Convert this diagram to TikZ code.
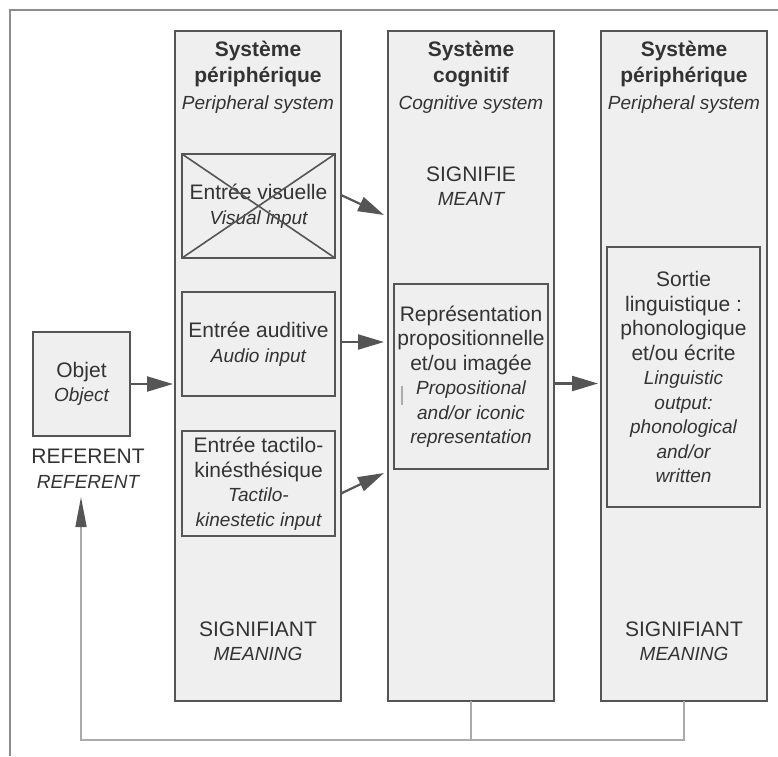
\documentclass[tikz,border=0pt]{standalone}
\usepackage{fontspec}
\setmainfont{Liberation Sans}
\usetikzlibrary{arrows.meta,calc}

\definecolor{ink}{HTML}{333333}
\definecolor{edge}{HTML}{555555}
\definecolor{panel}{HTML}{EFEFEF}
\definecolor{framecol}{HTML}{8C8C8C}
\definecolor{loopcol}{HTML}{ABABAB}

% French text at 21pt, English glosses in italic at 19pt, same line pitch
\newcommand{\frtext}{\fontsize{21}{24.5}\selectfont}
\newcommand{\engl}[1]{{\fontsize{19}{24.5}\selectfont\itshape #1}}
\newcommand{\hdtext}{\fontsize{21}{26.5}\selectfont\bfseries}
\newcommand{\hdengl}[1]{{\fontsize{19}{26.5}\selectfont\mdseries\itshape #1}}

\begin{document}
\begin{tikzpicture}[x=1pt,y=-1pt,
  column/.style={draw=edge, line width=1.6pt, fill=panel, inner sep=0pt,
    outer sep=0pt, anchor=north west, minimum width=166pt, minimum height=670pt},
  inbox/.style={draw=edge, line width=2pt, fill=panel, inner sep=0pt,
    outer sep=0pt, align=center, font=\frtext, text=ink},
  label/.style={align=center, font=\frtext, text=ink, inner sep=0pt},
  header/.style={align=center, font=\hdtext, text=ink, inner sep=0pt},
  arr/.style={draw=edge, line width=2.2pt,
    -{Triangle[length=26pt,width=15pt]}},
  loopline/.style={draw=loopcol, line width=1.6pt}
]
\useasboundingbox (0,0) rectangle (778,756);

% outer frame (open to the right and bottom)
\draw[framecol, line width=2pt] (10,756) -- (10,10) -- (778,10);

% the three system columns
\node[column] (per1) at (175,31) {};
\node[column] (cog)  at (388,31) {};
\node[column] (per2) at (601,31) {};

% column headings
\node[header] (h1) at (258,77) {Système\\périphérique\\\hdengl{Peripheral system}};
\node[header] (h2) at (471,77) {Système\\cognitif\\\hdengl{Cognitive system}};
\node[header] (h3) at (684,77) {Système\\périphérique\\\hdengl{Peripheral system}};

% column footers and middle label
\node[label] (sig1) at (258,641) {SIGNIFIANT\\\engl{MEANING}};
\node[label] (sig3) at (684,641) {SIGNIFIANT\\\engl{MEANING}};
\node[label] (meant) at (471,186) {SIGNIFIE\\\engl{MEANT}};

% object and its label
\node[inbox, minimum width=97pt, minimum height=104pt] (obj) at (81.5,384)
  {Objet\\\engl{Object}};
\node[label] (reflbl) at (88,469) {REFERENT\\\engl{REFERENT}};

% input channels
\node[inbox, minimum width=153pt, minimum height=104pt] (vis) at (258.5,206)
  {Entrée visuelle\\\engl{Visual input}};
\draw[edge, line width=1.6pt] (vis.north west) -- (vis.south east)
  (vis.south west) -- (vis.north east);
\node[inbox, minimum width=153pt, minimum height=104pt] (aud) at (258.5,344)
  {Entrée auditive\\\engl{Audio input}};
\node[inbox, minimum width=153pt, minimum height=105pt] (tac) at (258.5,483.5)
  {Entrée tactilo-\\kinésthésique\\\engl{Tactilo-}\\\engl{kinestetic input}};

% cognitive representation
\node[inbox, minimum width=154pt, minimum height=185pt] (rep) at (471,376.5)
  {Représentation\\propositionnelle\\et/ou imagée\\\engl{Propositional}\\
   \engl{and/or iconic}\\\engl{representation}};
\draw[loopcol, line width=1.2pt] (402,386) -- (402,405);

% linguistic output
\node[inbox, minimum width=153pt, minimum height=260pt] (out) at (683.5,377)
  {Sortie\\linguistique :\\phonologique\\et/ou écrite\\\engl{Linguistic}\\
   \engl{output:}\\\engl{phonological}\\\engl{and/or}\\\engl{written}};

% arrow end points in front of the cognitive column
\coordinate (visIn) at (384,215);
\coordinate (tacIn) at (384,473);

% flow arrows
\draw[arr] (obj.east) -- ($(obj.east -| per1.west)+(-2,0)$);
\draw[arr] ($(vis.east -| per1.east)+(0,-11)$) -- (visIn);
\draw[arr] ($(aud.east -| per1.east)+(0,-2)$) -- ($(aud.east -| cog.west)+(-4,-2)$);
\draw[arr] ($(tac.east -| per1.east)+(0,10)$) -- (tacIn);
\draw[arr] ($(rep.east -| cog.east)+(0,7)$) -- ($(rep.east -| per2.west)+(-3,7)$);

% feedback loop back to the referent
\coordinate (fb) at (81,740);
\coordinate (refTip) at (81,497);
\draw[loopline] (cog.south) -- (cog.south |- fb);
\draw[loopline, -{Triangle[length=30pt,width=11pt,color=edge]}]
  (per2.south) |- (fb) -- (refTip);
\end{tikzpicture}
\end{document}
